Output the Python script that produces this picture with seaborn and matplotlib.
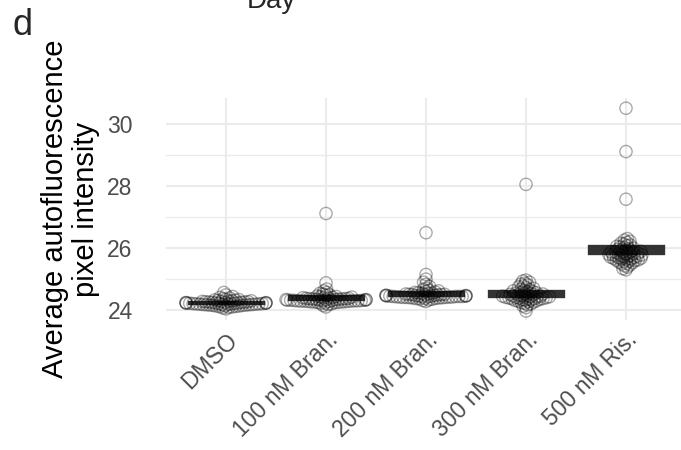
import numpy as np
import pandas as pd
import matplotlib
matplotlib.use("Agg")
import matplotlib.pyplot as plt
import seaborn as sns

groups = ["DMSO", "100 nM Bran.", "200 nM Bran.", "300 nM Bran.", "500 nM Ris."]

dmso = [24.04, 24.07, 24.09, 24.10, 24.11, 24.12, 24.13, 24.13, 24.14, 24.15,
        24.15, 24.16, 24.16, 24.17, 24.17, 24.18, 24.18, 24.18, 24.19, 24.19,
        24.19, 24.20, 24.20, 24.20, 24.21, 24.21, 24.21, 24.22, 24.22, 24.22,
        24.22, 24.23, 24.23, 24.23, 24.24, 24.24, 24.24, 24.25, 24.25, 24.25,
        24.26, 24.26, 24.27, 24.27, 24.28, 24.28, 24.29, 24.30, 24.30, 24.31,
        24.32, 24.33, 24.34, 24.35, 24.37, 24.39, 24.41, 24.44, 24.49, 24.57]

bran100 = [24.10, 24.15, 24.18, 24.20, 24.22, 24.23, 24.24, 24.25, 24.25, 24.26,
           24.26, 24.27, 24.27, 24.28, 24.28, 24.28, 24.29, 24.29, 24.29, 24.30,
           24.30, 24.30, 24.30, 24.31, 24.31, 24.31, 24.32, 24.32, 24.32, 24.33,
           24.33, 24.33, 24.34, 24.34, 24.34, 24.35, 24.35, 24.36, 24.36, 24.37,
           24.37, 24.38, 24.38, 24.39, 24.40, 24.40, 24.41, 24.42, 24.43, 24.44,
           24.45, 24.47, 24.49, 24.51, 24.54, 24.57, 24.62, 24.68, 24.88, 27.12]

bran200 = [24.28, 24.31, 24.33, 24.35, 24.36, 24.37, 24.38, 24.38, 24.39, 24.39,
           24.40, 24.40, 24.41, 24.41, 24.41, 24.42, 24.42, 24.42, 24.43, 24.43,
           24.43, 24.44, 24.44, 24.44, 24.44, 24.45, 24.45, 24.45, 24.46, 24.46,
           24.46, 24.47, 24.47, 24.47, 24.48, 24.48, 24.49, 24.49, 24.50, 24.50,
           24.51, 24.51, 24.52, 24.53, 24.54, 24.55, 24.56, 24.57, 24.58, 24.60,
           24.62, 24.64, 24.67, 24.71, 24.76, 24.83, 24.90, 25.00, 25.15, 26.50]

bran300 = [23.97, 24.08, 24.13, 24.17, 24.20, 24.22, 24.24, 24.26, 24.27, 24.29,
           24.30, 24.31, 24.32, 24.33, 24.34, 24.35, 24.36, 24.37, 24.37, 24.38,
           24.39, 24.39, 24.40, 24.41, 24.41, 24.42, 24.43, 24.43, 24.44, 24.45,
           24.45, 24.46, 24.47, 24.48, 24.49, 24.50, 24.51, 24.52, 24.53, 24.54,
           24.55, 24.56, 24.57, 24.59, 24.60, 24.62, 24.64, 24.66, 24.68, 24.70,
           24.72, 24.75, 24.78, 24.81, 24.84, 24.87, 24.90, 24.94, 24.97, 28.06]

ris500 = [25.30, 25.34, 25.39, 25.43, 25.46, 25.49, 25.51, 25.53, 25.55, 25.57,
          25.58, 25.60, 25.61, 25.62, 25.64, 25.65, 25.66, 25.67, 25.68, 25.69,
          25.70, 25.71, 25.72, 25.73, 25.74, 25.75, 25.76, 25.77, 25.78, 25.79,
          25.80, 25.81, 25.82, 25.83, 25.84, 25.85, 25.86, 25.87, 25.88, 25.90,
          25.91, 25.93, 25.94, 25.96, 25.98, 26.00, 26.02, 26.04, 26.06, 26.08,
          26.10, 26.13, 26.16, 26.19, 26.22, 26.26, 26.31, 27.58, 29.12, 30.52]

y_major = [24, 26, 28, 30]
y_minor = [25, 27, 29]

values = [dmso, bran100, bran200, bran300, ris500]
df = pd.DataFrame({
    "group": np.repeat(groups, [len(v) for v in values]),
    "value": np.concatenate(values),
})
df["group"] = pd.Categorical(df["group"], categories=groups, ordered=True)

sns.set_style("white")
plt.rcParams["font.family"] = ["Liberation Sans", "DejaVu Sans"]

fig = plt.figure(figsize=(6.81, 4.5), dpi=100)
ax = fig.add_axes([166 / 681, 1 - 320 / 450, 1 - 166 / 681, (320 - 98) / 450])
ax.set_xlim(-0.6, 4.55)
ax.set_ylim(23.68, 30.85)

# crossbar: mean +/- standard error
stats = df.groupby("group", observed=False)["value"].agg(["mean", "sem"]).reindex(groups)
ax.bar(np.arange(len(groups)), 2 * stats["sem"], bottom=stats["mean"] - stats["sem"],
       width=0.74, color="#333333", edgecolor="#333333", linewidth=2.4, zorder=2)

# beeswarm layout computed with a compact spacing (points overlap, as in the reference)
sns.swarmplot(data=df, x="group", y="value", order=groups, ax=ax,
              size=1.3, color="black", facecolor="none", edgecolor="black",
              linewidth=1.0, alpha=0.33, zorder=3, warn_thresh=1.0)

ax.set_xlim(-0.6, 4.55)
ax.set_ylim(23.68, 30.85)

fig.canvas.draw()
swarms = [c for c in ax.collections if "draw" in c.__dict__]
for coll in swarms:
    frozen = coll.get_offsets().copy()
    del coll.draw
    coll.set_offsets(frozen)
    coll.set_facecolor("none")
    coll.set_sizes([8.8 ** 2])

ax.set_yticks(y_major)
ax.set_yticks(y_minor, minor=True)
ax.grid(True, which="major", color="#ebebeb", linewidth=1.5, zorder=0)
ax.grid(True, which="minor", axis="y", color="#ebebeb", linewidth=1.0, zorder=0)
ax.set_axisbelow(True)
for s in ax.spines.values():
    s.set_visible(False)
ax.tick_params(axis="both", which="both", length=0, labelsize=16.5, labelcolor="#4d4d4d")
ax.tick_params(axis="y", pad=24)
ax.tick_params(axis="x", pad=6)
ax.set_xticks(range(len(groups)))
ax.set_xticklabels(groups, rotation=45, ha="right", va="top", rotation_mode="anchor")
ax.set_xlabel("")
ax.set_ylabel("Average autofluorescence\npixel intensity", fontsize=21, color="black",
              labelpad=5, linespacing=1.15)

fig.text(12 / 681, 1 - 35 / 450, "d", fontsize=26, va="baseline", ha="left")
fig.text(247 / 681, 1 - 8 / 450, "Day", fontsize=20, va="baseline", ha="left")

fig.savefig("out.png", dpi=100)
